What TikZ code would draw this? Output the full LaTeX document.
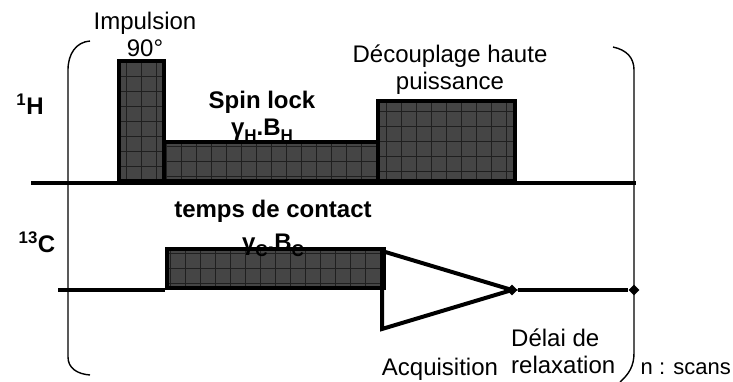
\documentclass[tikz,border=0pt]{standalone}
\usepackage{fontspec}
\setmainfont{Liberation Sans}
\usetikzlibrary{shapes.geometric}
\begin{document}
\begin{tikzpicture}[x=1pt,y=-1pt,
  lbl/.style={font=\fontsize{24}{27}\selectfont, inner sep=0pt, align=center},
  blbl/.style={lbl, font=\fontsize{24}{27}\selectfont\bfseries},
  pulse/.style={draw=black, line width=4pt, fill=black!73, inner sep=0pt, anchor=south west,
    path picture={\draw[black!88, line width=0.6pt]
      (path picture bounding box.south west) grid[step=15pt] (path picture bounding box.north east);}},
  axisln/.style={line width=4pt},
  brk/.style={line width=1.4pt},
  dmd/.style={diamond, fill=black, inner sep=0pt, minimum size=11pt}]
\useasboundingbox (0,0) rectangle (733,381);

% axes
\coordinate (h0) at (31,183);
\coordinate (h1) at (636,183);
\coordinate (c0) at (58,290);
\draw[axisln] (h0) -- (h1);

% brackets
\draw[brk] (90,41) .. controls (76,42) and (68,54) .. (68,70) -- (68,357) .. controls (68,368) and (77,374) .. (90,375);
\draw[brk] (613,47) .. controls (627,50) and (634,58) .. (634,70) -- (634,353) .. controls (634,366) and (629,374) .. (620,382);

% 1H pulses
\node[pulse, minimum width=45pt, minimum height=120pt] (p90) at (117,183) {};
\node[pulse, minimum width=214pt, minimum height=39pt] (lock) at (162,183) {};
\node[pulse, minimum width=137pt, minimum height=80pt] (dec) at (376,183) {};

% 13C
\node[pulse, minimum width=217pt, minimum height=39pt] (cont) at (165,290) {};
\coordinate (tA) at (382,251);
\coordinate (tB) at (382,329);
\node[dmd] (d1) at (512,290) {};
\node[dmd] (d2) at (634,290) {};
\draw[axisln] (c0) -- (cont.south west);
\draw[line width=4pt, line join=miter] (tA) -- (d1.center) -- (tB) -- (tA);
\draw[axisln] (d1) -- (d2);

% labels
\node[lbl] (imp) at (145,34) {Impulsion\\90°};
\node[blbl] (H) at (30,104) {\textsuperscript{1}H};
\node[blbl] (spin) at (262,102) {Spin lock};
\node[blbl] (gh) at (262,130) {γ\raisebox{-0.45ex}{\fontsize{17}{17}\selectfont H}.B\raisebox{-0.45ex}{\fontsize{17}{17}\selectfont H}};
\node[lbl] (decl) at (450,70) {Découplage haute\\puissance};
\node[blbl] (C) at (37,242) {\textsuperscript{13}C};
\node[blbl] (temps) at (273,211) {temps de contact};
\node[blbl] (gc) at (273,245) {γ\raisebox{-0.45ex}{\fontsize{17}{17}\selectfont C}.B\raisebox{-0.45ex}{\fontsize{17}{17}\selectfont C}};
\node[lbl] (acq) at (440,369) {Acquisition};
\node[lbl, align=left, anchor=west] (delai) at (511,351) {Délai de\\relaxation};
\node[lbl, font=\fontsize{22}{27}\selectfont, anchor=east] (scans) at (731,369) {n : scans};
\end{tikzpicture}
\end{document}
